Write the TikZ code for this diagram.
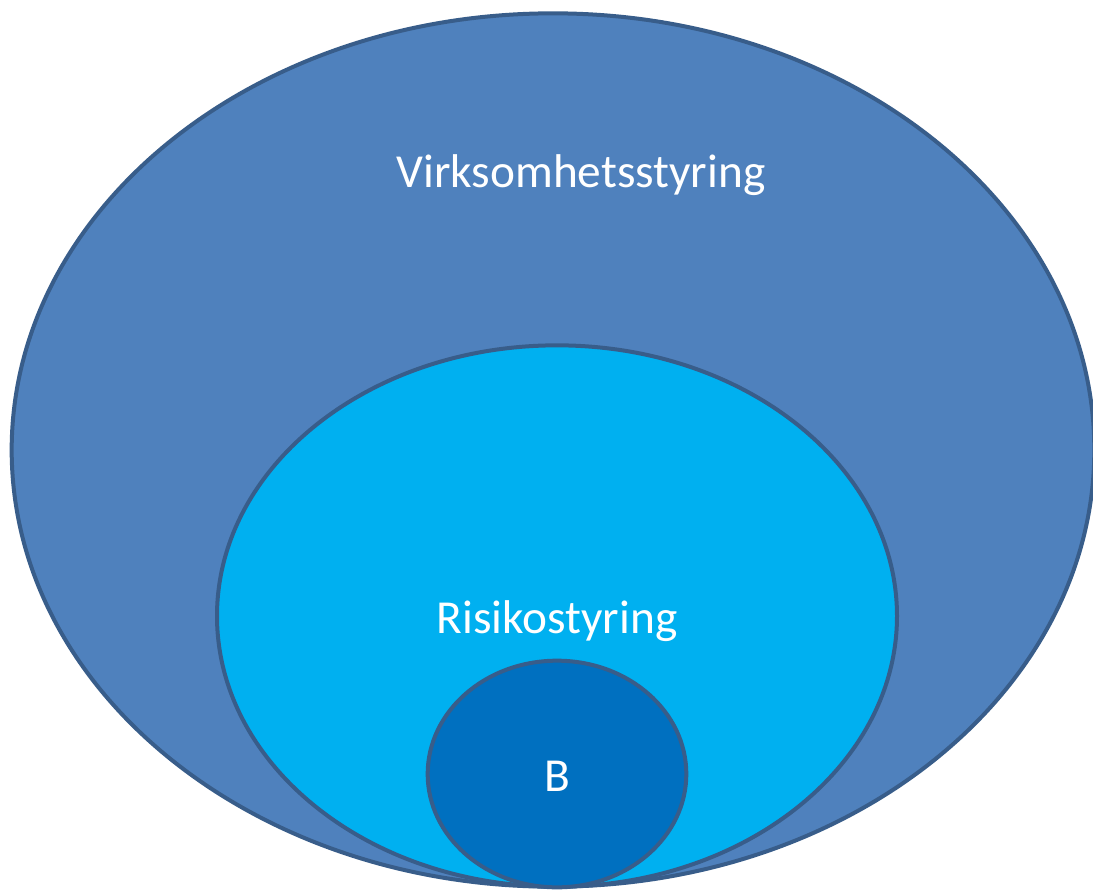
\documentclass[tikz,border=0pt]{standalone}
\usepackage{fontspec}
\setmainfont{Carlito}
\usetikzlibrary{shapes.geometric}
\definecolor{AzulAcero}{RGB}{79, 129, 189}
\definecolor{Celeste}{RGB}{0, 176, 240}
\definecolor{AzulRey}{RGB}{0, 112, 192}
\definecolor{Borde}{RGB}{56, 93, 138}

\begin{document}
\begin{tikzpicture}[x=0.75pt, y=-0.75pt,
        circulo/.style={ellipse, draw=Borde, line width=3pt, inner sep=0pt},
        rotulo/.style={text=white, anchor=base, font=\fontsize{35.5}{42}\selectfont}]
            %Marco
            \useasboundingbox (0,0) rectangle (1093,890);
            %Elipses
            \node[circulo, fill=AzulAcero, minimum width=812pt, minimum height=655pt] (Virk) at (553,450) {};
            \node[circulo, fill=Celeste, minimum width=510pt, minimum height=406pt] (Risk) at (557,616) {};
            \node[circulo, fill=AzulRey, minimum width=194pt, minimum height=170pt] (B) at (557,774) {};
            %Textos
            \node[rotulo] (tVirk) at (581,187) {Virksomhetsstyring};
            \node[rotulo] (tRisk) at (557,633) {Risikostyring};
            \node[rotulo] (tB) at (557,791) {B};
        \end{tikzpicture}
\end{document}
